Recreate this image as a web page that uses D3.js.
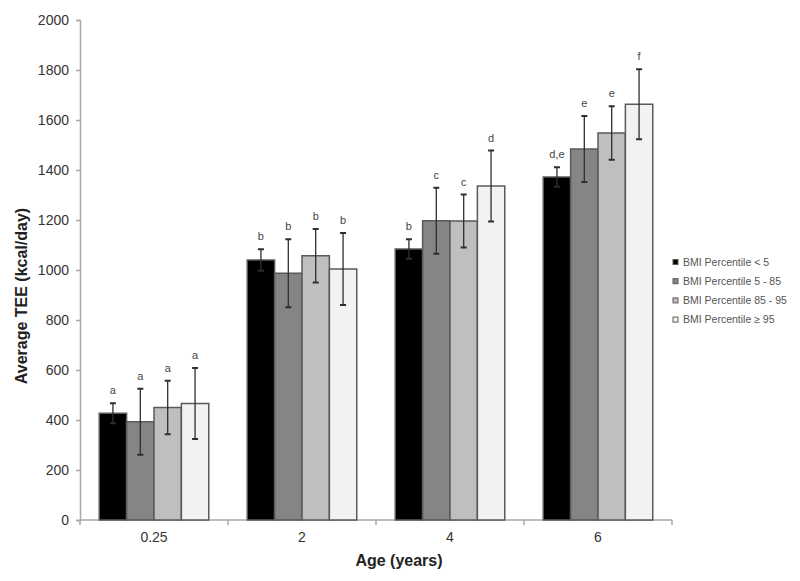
<!DOCTYPE html>
<html>
<head>
<meta charset="utf-8">
<script src="https://cdn.jsdelivr.net/npm/d3@7"></script>
<style>
  body { margin: 0; background: #fff; }
  svg { display: block; font-family: "Liberation Sans", Arial, sans-serif; }
</style>
</head>
<body>
<svg width="800" height="581"></svg>
<script>
// ages on the x axis
const ages = ["0.25", "2", "4", "6"];
// BMI percentile groups
const groups = ["BMI Percentile < 5", "BMI Percentile 5 - 85", "BMI Percentile 85 - 95", "BMI Percentile \u2265 95"];
const fills = ["#000000", "#858585", "#bfbfbf", "#f2f2f2"];

// average TEE per group, one value per age
const teeLow = [427, 1040, 1084, 1372];
const teeNormal = [393, 987, 1197, 1484];
const teeOver = [450, 1057, 1196, 1548];
const teeObese = [466, 1004, 1336, 1663];

// SD for the error bars
const sdLow = [40, 43, 39, 39];
const sdNormal = [132, 136, 132, 132];
const sdOver = [107, 107, 106, 107];
const sdObese = [142, 144, 142, 140];

// significance letters
const lettersLow = ["a", "b", "b", "d,e"];
const lettersNormal = ["a", "b", "c", "e"];
const lettersOver = ["a", "b", "c", "e"];
const lettersObese = ["a", "b", "d", "f"];

const yTicks = d3.range(0, 2001, 200);

const means = [teeLow, teeNormal, teeOver, teeObese];
const sds = [sdLow, sdNormal, sdOver, sdObese];
const letters = [lettersLow, lettersNormal, lettersOver, lettersObese];

const rows = [];
ages.forEach((age, i) => {
    groups.forEach((g, j) => {
        rows.push({ age, group: g, idx: j, mean: means[j][i], sd: sds[j][i], letter: letters[j][i] });
    });
});

const svg = d3.select("svg");
const plotLeft = 80, plotRight = 672, plotTop = 20, plotBottom = 520;

const x0 = d3.scaleBand().domain(ages).range([plotLeft, plotRight]).paddingInner(0.26).paddingOuter(0.13);
const x1 = d3.scaleBand().domain(groups).range([0, x0.bandwidth()]);
const y = d3.scaleLinear().domain([0, 2000]).range([plotBottom, plotTop]);

// y axis
const yAxis = svg.append("g")
    .attr("transform", `translate(${plotLeft},0)`)
    .call(d3.axisLeft(y).tickValues(yTicks).tickFormat(d3.format("d")).tickSize(4).tickPadding(7));
yAxis.select(".domain").attr("stroke", "#a8a8a8").attr("stroke-width", 1.5);
yAxis.selectAll(".tick line").attr("stroke", "#a8a8a8").attr("stroke-width", 1.5);
yAxis.selectAll(".tick text").attr("fill", "#333").style("font-size", "14px");

// x axis: line, tick marks between groups, labels at centres
const xAxis = svg.append("g").attr("transform", `translate(0,${plotBottom})`);
xAxis.append("line").attr("x1", plotLeft).attr("x2", plotRight)
    .attr("stroke", "#a8a8a8").attr("stroke-width", 1.5);
xAxis.selectAll(".xtick")
    .data(ages.map(a => x0(a) - x0.step() * x0.paddingInner() / 2).concat([plotRight]))
    .join("line")
    .attr("x1", d => d).attr("x2", d => d)
    .attr("y1", 0).attr("y2", 5)
    .attr("stroke", "#a8a8a8").attr("stroke-width", 1.5);
xAxis.selectAll(".xlab")
    .data(ages)
    .join("text")
    .attr("x", d => x0(d) + x0.bandwidth() / 2)
    .attr("y", 22)
    .attr("text-anchor", "middle")
    .attr("fill", "#333")
    .style("font-size", "14px")
    .text(d => d);

// bars
const bars = svg.append("g");
bars.selectAll("rect")
    .data(rows)
    .join("rect")
    .attr("x", d => x0(d.age) + x1(d.group))
    .attr("y", d => y(d.mean))
    .attr("width", x1.bandwidth())
    .attr("height", d => y(0) - y(d.mean))
    .attr("fill", d => fills[d.idx])
    .attr("stroke", "#5a5a5a")
    .attr("stroke-width", 1.5);

// error bars
const err = svg.append("g").attr("stroke", "#2e2e2e").attr("stroke-width", 1.3);
const cx = d => x0(d.age) + x1(d.group) + x1.bandwidth() / 2;
err.selectAll(".v")
    .data(rows)
    .join("line")
    .attr("x1", cx).attr("x2", cx)
    .attr("y1", d => y(d.mean + d.sd))
    .attr("y2", d => y(d.mean - d.sd));
err.selectAll(".capTop")
    .data(rows)
    .join("line")
    .attr("x1", d => cx(d) - 3).attr("x2", d => cx(d) + 3)
    .attr("y1", d => y(d.mean + d.sd)).attr("y2", d => y(d.mean + d.sd))
    .attr("stroke-width", 2);
err.selectAll(".capBot")
    .data(rows)
    .join("line")
    .attr("x1", d => cx(d) - 3).attr("x2", d => cx(d) + 3)
    .attr("y1", d => y(d.mean - d.sd)).attr("y2", d => y(d.mean - d.sd))
    .attr("stroke-width", 2);

// letters
svg.append("g").selectAll("text")
    .data(rows)
    .join("text")
    .attr("x", cx)
    .attr("y", d => y(d.mean + d.sd) - 9)
    .attr("text-anchor", "middle")
    .attr("fill", "#444")
    .style("font-size", "11px")
    .text(d => d.letter);

// axis titles
svg.append("text")
    .attr("transform", "translate(27,296) rotate(-90)")
    .attr("text-anchor", "middle")
    .attr("fill", "#222")
    .style("font-size", "16px")
    .style("font-weight", "bold")
    .text("Average TEE (kcal/day)");
svg.append("text")
    .attr("x", 399)
    .attr("y", 566)
    .attr("text-anchor", "middle")
    .attr("fill", "#222")
    .style("font-size", "16px")
    .style("font-weight", "bold")
    .text("Age (years)");

// legend
const legend = svg.append("g").attr("transform", "translate(673,262)");
const item = legend.selectAll("g")
    .data(groups)
    .join("g")
    .attr("transform", (d, i) => `translate(0,${i * 19.2})`);
item.append("rect")
    .attr("x", 0).attr("y", -2.5)
    .attr("width", 5).attr("height", 5)
    .attr("fill", (d, i) => fills[i])
    .attr("stroke", "#5a5a5a")
    .attr("stroke-width", 1);
item.append("text")
    .attr("x", 10)
    .attr("y", 0)
    .attr("dy", "0.35em")
    .attr("fill", "#555")
    .style("font-size", "10.5px")
    .text(d => d);
</script>
</body>
</html>
